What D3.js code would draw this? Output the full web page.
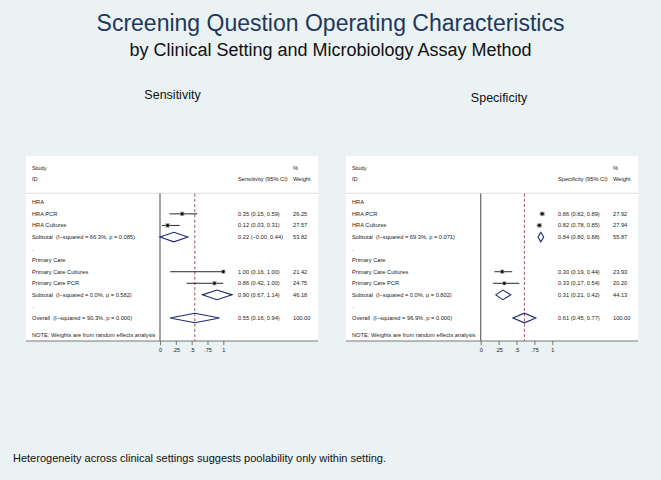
<!DOCTYPE html>
<html>
<head>
<meta charset="utf-8">
<script src="https://cdn.jsdelivr.net/npm/d3@7"></script>
<style>
  body { margin: 0; background: #eaf2f3; }
  svg { display: block; font-family: "Liberation Sans", Arial, Helvetica, sans-serif; }
</style>
</head>
<body>
<div id="chart"></div>
<script>
// row labels (same for both panels)
var rowLabels = ["HRA", "HRA PCR", "HRA Cultures", "Subtotal", ".", "Primary Care",
                 "Primary Care Cultures", "Primary Care PCR", "Subtotal", ".", "Overall"];
var rowTypes = ["group", "study", "study", "sub", "blank", "group",
                "study", "study", "sub", "blank", "overall"];

// Sensitivity
var sensEst = [null, 0.35, 0.12, 0.22, null, null, 1.00, 0.86, 0.90, null, 0.55];
var sensLo  = [null, 0.15, 0.03, -0.00, null, null, 0.16, 0.42, 0.67, null, 0.16];
var sensHi  = [null, 0.59, 0.31, 0.44, null, null, 1.00, 1.00, 1.14, null, 0.94];
var sensWt  = [null, 26.25, 27.57, 53.82, null, null, 21.42, 24.75, 46.18, null, 100.00];
var sensHet = [null, null, null, "(I\u2212squared = 66.3%, p = 0.085)", null, null,
               null, null, "(I\u2212squared = 0.0%, p = 0.582)", null, "(I\u2212squared = 90.3%, p = 0.000)"];

// Specificity
var specEst = [null, 0.86, 0.82, 0.84, null, null, 0.30, 0.33, 0.31, null, 0.61];
var specLo  = [null, 0.82, 0.78, 0.80, null, null, 0.19, 0.17, 0.21, null, 0.45];
var specHi  = [null, 0.89, 0.85, 0.88, null, null, 0.44, 0.54, 0.42, null, 0.77];
var specWt  = [null, 27.92, 27.94, 55.87, null, null, 23.93, 20.20, 44.13, null, 100.00];
var specHet = [null, null, null, "(I\u2212squared = 69.3%, p = 0.071)", null, null,
               null, null, "(I\u2212squared = 0.0%, p = 0.802)", null, "(I\u2212squared = 96.9%, p = 0.000)"];

var tickVals = [0, 0.25, 0.5, 0.75, 1];
var tickLabels = ["0", ".25", ".5", ".75", "1"];

var W = 661, H = 480;
var svg = d3.select("#chart").append("svg")
    .attr("width", W).attr("height", H);

svg.append("rect").attr("width", W).attr("height", H).attr("fill", "#eaf2f3");

// titles
svg.append("text").attr("x", 330.5).attr("y", 31)
    .attr("text-anchor", "middle").style("font-size", "23px")
    .attr("fill", "#22375c")
    .text("Screening Question Operating Characteristics");
svg.append("text").attr("x", 330.5).attr("y", 55.5)
    .attr("text-anchor", "middle").style("font-size", "18px")
    .attr("fill", "#111")
    .text("by Clinical Setting and Microbiology Assay Method");

svg.append("text").attr("x", 13).attr("y", 462)
    .style("font-size", "11px").attr("fill", "#111")
    .text("Heterogeneity across clinical settings suggests poolability only within setting.");

// row position scale
var y = d3.scaleLinear().domain([0, 10]).range([202.3, 318]);

function forest(opt) {
    var g = svg.append("g");
    var left = opt.left, right = opt.left + 292;
    var top = 156, bottom = 341;

    g.append("text").attr("x", opt.titleX).attr("y", opt.titleY)
        .attr("text-anchor", "middle").style("font-size", "12.5px").attr("fill", "#111")
        .text(opt.title);

    g.append("rect").attr("x", left).attr("y", top)
        .attr("width", right - left).attr("height", bottom - top)
        .attr("fill", "#fff");

    var x = d3.scaleLinear().domain([0, 1]).range(opt.range);

    var fs = "5.7px", col = "#222";
    var lx = left + 6, ex = left + 212, wx = left + 267;

    // headers
    g.append("text").attr("x", lx).attr("y", y(-3)).attr("dy", "0.35em")
        .style("font-size", fs).attr("fill", col).text("Study");
    g.append("text").attr("x", lx).attr("y", y(-2)).attr("dy", "0.35em")
        .style("font-size", fs).attr("fill", col).text("ID");
    g.append("text").attr("x", ex).attr("y", y(-2)).attr("dy", "0.35em")
        .style("font-size", fs).attr("fill", col).text(opt.measure + " (95% CI)");
    g.append("text").attr("x", wx).attr("y", y(-3)).attr("dy", "0.35em")
        .style("font-size", fs).attr("fill", col).text("%");
    g.append("text").attr("x", wx).attr("y", y(-2)).attr("dy", "0.35em")
        .style("font-size", fs).attr("fill", col).text("Weight");

    // separator
    g.append("line").attr("x1", left).attr("x2", right)
        .attr("y1", y(-0.78)).attr("y2", y(-0.78))
        .attr("stroke", "#d6d6d6").attr("stroke-width", 0.8);

    // null line
    g.append("line").attr("x1", x(0)).attr("x2", x(0))
        .attr("y1", y(-0.75)).attr("y2", bottom)
        .attr("stroke", "#666").attr("stroke-width", 1.2);

    // overall dashed line
    var ov = opt.est[10];
    g.append("line").attr("x1", x(ov)).attr("x2", x(ov))
        .attr("y1", y(-0.75)).attr("y2", bottom)
        .attr("stroke", "#8b2332").attr("stroke-width", 0.8)
        .attr("stroke-dasharray", "3,2.2");

    var rows = rowLabels.map(function (d, i) {
        return { i: i, label: d, type: rowTypes[i], est: opt.est[i], lo: opt.lo[i],
                 hi: opt.hi[i], wt: opt.wt[i], het: opt.het[i] };
    });

    // labels
    g.selectAll(".lab").data(rows).enter().append("text")
        .attr("x", lx).attr("y", function (d) { return y(d.i); }).attr("dy", "0.35em")
        .style("font-size", fs).attr("fill", col)
        .attr("xml:space", "preserve")
        .text(function (d) { return d.het ? d.label + "  " + d.het : d.label; });

    var marks = rows.filter(function (d) { return d.est !== null; });

    // estimate text
    g.selectAll(".est").data(marks).enter().append("text")
        .attr("x", ex).attr("y", function (d) { return y(d.i); }).attr("dy", "0.35em")
        .style("font-size", fs).attr("fill", col)
        .text(function (d) {
            var f = function (v) { return (v < 0 || Object.is(v, -0) ? "\u2212" : "") + Math.abs(v).toFixed(2); };
            return d.est.toFixed(2) + " (" + f(d.lo) + ", " + d.hi.toFixed(2) + ")";
        });
    g.selectAll(".wt").data(marks).enter().append("text")
        .attr("x", wx).attr("y", function (d) { return y(d.i); }).attr("dy", "0.35em")
        .style("font-size", fs).attr("fill", col)
        .text(function (d) { return d.wt.toFixed(2); });

    var studies = marks.filter(function (d) { return d.type === "study"; });
    // CI lines
    g.selectAll(".ci").data(studies).enter().append("line")
        .attr("x1", function (d) { return x(d.lo); })
        .attr("x2", function (d) { return x(d.hi); })
        .attr("y1", function (d) { return y(d.i); })
        .attr("y2", function (d) { return y(d.i); })
        .attr("stroke", "#111").attr("stroke-width", 0.9);
    // weight boxes
    g.selectAll(".box").data(studies).enter().append("rect")
        .attr("x", function (d) { return x(d.est) - Math.sqrt(d.wt) * 0.42; })
        .attr("y", function (d) { return y(d.i) - Math.sqrt(d.wt) * 0.42; })
        .attr("width", function (d) { return Math.sqrt(d.wt) * 0.84; })
        .attr("height", function (d) { return Math.sqrt(d.wt) * 0.84; })
        .attr("fill", "#9a9a9a");
    g.selectAll(".pt").data(studies).enter().append("circle")
        .attr("cx", function (d) { return x(d.est); })
        .attr("cy", function (d) { return y(d.i); })
        .attr("r", 1.4).attr("fill", "#000");

    // diamonds
    var pooled = marks.filter(function (d) { return d.type !== "study"; });
    g.selectAll(".dia").data(pooled).enter().append("path")
        .attr("d", function (d) {
            var cy = y(d.i), h = 4.8;
            return "M" + x(d.lo) + "," + cy + "L" + x(d.est) + "," + (cy - h) +
                   "L" + x(d.hi) + "," + cy + "L" + x(d.est) + "," + (cy + h) + "Z";
        })
        .attr("fill", "none").attr("stroke", "#1c2a6e").attr("stroke-width", 1.1);

    // note
    g.append("text").attr("x", lx).attr("y", 335.3).attr("dy", "0.35em")
        .style("font-size", fs).attr("fill", col)
        .text("NOTE: Weights are from random effects analysis");

    // axis
    g.append("line").attr("x1", left).attr("x2", right)
        .attr("y1", bottom).attr("y2", bottom)
        .attr("stroke", "#777").attr("stroke-width", 1);
    var ax = g.append("g").attr("transform", "translate(0," + bottom + ")")
        .call(d3.axisBottom(x).tickValues(tickVals)
            .tickFormat(function (d, i) { return tickLabels[i]; })
            .tickSize(4).tickPadding(3));
    ax.select(".domain").remove();
    ax.selectAll("line").attr("stroke", "#555").attr("stroke-width", 0.8);
    ax.selectAll("text").style("font-size", "5.6px").attr("fill", "#222")
        .style("font-family", "'Liberation Sans', Arial, sans-serif");
}

forest({ left: 26, range: [160, 223.3], title: "Sensitivity", titleX: 172.5, titleY: 99,
         measure: "Sensitivity", est: sensEst, lo: sensLo, hi: sensHi, wt: sensWt, het: sensHet });
forest({ left: 346, range: [480.7, 552.3], title: "Specificity", titleX: 499, titleY: 101.5,
         measure: "Specificity", est: specEst, lo: specLo, hi: specHi, wt: specWt, het: specHet });
</script>
</body>
</html>
